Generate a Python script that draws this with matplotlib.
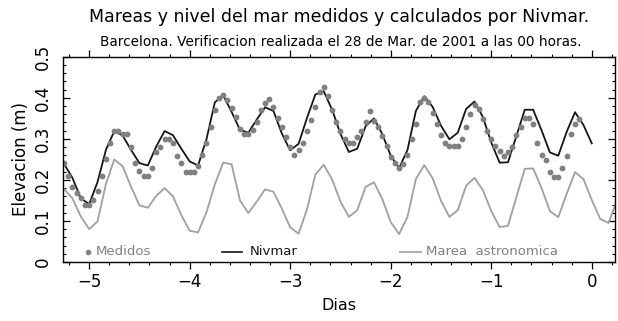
import numpy as np
import matplotlib.pyplot as plt
from matplotlib.ticker import MultipleLocator

# tiempo en dias (0 = 28 de marzo 2001, 00 h)
inicio = -5.25

# Nivmar, cada 2 horas
nivmar = [0.239, 0.205, 0.155, 0.141, 0.195, 0.273, 0.319, 0.308, 0.273, 0.241,
          0.235, 0.281, 0.319, 0.309, 0.276, 0.245, 0.235, 0.299, 0.389, 0.406,
          0.366, 0.322, 0.315, 0.347, 0.377, 0.368, 0.313, 0.272, 0.288, 0.351,
          0.408, 0.416, 0.371, 0.312, 0.268, 0.276, 0.331, 0.350, 0.311, 0.259,
          0.229, 0.273, 0.368, 0.404, 0.378, 0.332, 0.299, 0.315, 0.373, 0.391,
          0.353, 0.291, 0.242, 0.243, 0.307, 0.371, 0.371, 0.321, 0.267, 0.259,
          0.317, 0.365, 0.334, 0.289]

# marea astronomica, cada 2 horas
astronomica = [0.178, 0.155, 0.111, 0.080, 0.099, 0.190, 0.250, 0.233, 0.183, 0.138,
               0.132, 0.161, 0.180, 0.160, 0.114, 0.076, 0.072, 0.121, 0.189, 0.242,
               0.238, 0.150, 0.119, 0.147, 0.177, 0.171, 0.130, 0.084, 0.069, 0.128,
               0.213, 0.237, 0.201, 0.147, 0.110, 0.126, 0.183, 0.194, 0.153, 0.097,
               0.068, 0.110, 0.202, 0.236, 0.204, 0.149, 0.110, 0.126, 0.186, 0.205,
               0.175, 0.124, 0.085, 0.088, 0.158, 0.227, 0.228, 0.180, 0.124, 0.109,
               0.166, 0.219, 0.202, 0.151, 0.105, 0.095, 0.150]

# medidas horarias
medidos = [0.240, 0.210, 0.183, 0.167, 0.157, 0.139, 0.139, 0.151, 0.172, 0.210,
           0.251, 0.291, 0.318, 0.318, 0.311, 0.311, 0.280, 0.240, 0.222, 0.210,
           0.210, 0.228, 0.269, 0.280, 0.300, 0.300, 0.289, 0.259, 0.240, 0.220,
           0.220, 0.220, 0.235, 0.261, 0.290, 0.330, 0.370, 0.400, 0.407, 0.395,
           0.375, 0.354, 0.324, 0.313, 0.311, 0.321, 0.342, 0.370, 0.388, 0.398,
           0.378, 0.352, 0.329, 0.305, 0.280, 0.261, 0.272, 0.290, 0.318, 0.346,
           0.378, 0.415, 0.427, 0.405, 0.370, 0.340, 0.318, 0.299, 0.291, 0.291,
           0.305, 0.320, 0.340, 0.367, 0.344, 0.329, 0.307, 0.283, 0.256, 0.240,
           0.228, 0.238, 0.261, 0.299, 0.337, 0.389, 0.399, 0.389, 0.362, 0.336,
           0.310, 0.291, 0.283, 0.283, 0.283, 0.299, 0.329, 0.360, 0.383, 0.372,
           0.348, 0.320, 0.299, 0.283, 0.271, 0.259, 0.269, 0.280, 0.310, 0.330,
           0.350, 0.350, 0.337, 0.289, 0.261, 0.248, 0.220, 0.207, 0.207, 0.228,
           0.259, 0.311, 0.337, 0.348]

y_ticks = [0, 0.1, 0.2, 0.3, 0.4, 0.5]
y_labels = ['0', '0.1', '0.2', '0.3', '0.4', '0.5']

t_lineas = inicio + np.arange(len(astronomica)) / 12.0
t_nivmar = t_lineas[:len(nivmar)]
t_medidos = inicio + np.arange(len(medidos)) / 24.0

gris_pt = '#808080'
gris_ln = '#a0a0a0'

fig = plt.figure(figsize=(6.18, 3.21), dpi=100)
ax = fig.add_axes([0.102, 0.184, 0.893, 0.639])

ax.plot(t_lineas, astronomica, color=gris_ln, lw=1.3)
ax.plot(t_nivmar, nivmar, color='#151515', lw=1.3)
ax.plot(t_medidos, medidos, 'o', ms=4.2, color=gris_pt, mec='none')

ax.set_xlim(-5.26, 0.23)
ax.set_ylim(0, 0.5)
ax.xaxis.set_major_locator(MultipleLocator(1))
ax.xaxis.set_minor_locator(MultipleLocator(0.2))
ax.set_yticks(y_ticks)
ax.set_yticklabels(y_labels)
ax.yaxis.set_minor_locator(MultipleLocator(0.02))

ax.tick_params(axis='x', which='both', direction='out', top=True, bottom=True,
               labelsize=12, pad=3)
ax.tick_params(axis='y', which='both', direction='in', left=True, right=True,
               labelsize=12, labelrotation=90, pad=8)
ax.tick_params(which='major', length=5, width=0.9)
ax.tick_params(which='minor', length=2.5, width=0.8)
for lab in ax.get_yticklabels():
    lab.set_va('center')
for s in ax.spines.values():
    s.set_linewidth(1.0)

ax.set_xlabel('Dias', fontsize=11.5, labelpad=5)
ax.set_ylabel('Elevacion (m)', fontsize=12, labelpad=3)

# leyenda en una fila, dentro del grafico
yl = 0.05
ax.plot([0.045], [yl], 'o', ms=4, color=gris_pt, mec='none', transform=ax.transAxes)
ax.text(0.059, yl, 'Medidos', color=gris_pt, fontsize=9.5, va='center', transform=ax.transAxes)
ax.plot([0.288, 0.325], [yl, yl], color='#151515', lw=1.2, transform=ax.transAxes)
ax.text(0.339, yl, 'Nivmar', color='#151515', fontsize=9.5, va='center', transform=ax.transAxes)
ax.plot([0.611, 0.648], [yl, yl], color=gris_ln, lw=1.2, transform=ax.transAxes)
ax.text(0.658, yl, 'Marea  astronomica', color=gris_pt, fontsize=9.5, va='center',
        transform=ax.transAxes)

fig.text(0.548, 0.947, 'Mareas y nivel del mar medidos y calculados por Nivmar.',
         ha='center', va='center', fontsize=12.5)
fig.text(0.551, 0.869, 'Barcelona. Verificacion realizada el 28 de Mar. de 2001 a las 00 horas.',
         ha='center', va='center', fontsize=9.8)

fig.savefig('out.png', dpi=100, facecolor='white')
